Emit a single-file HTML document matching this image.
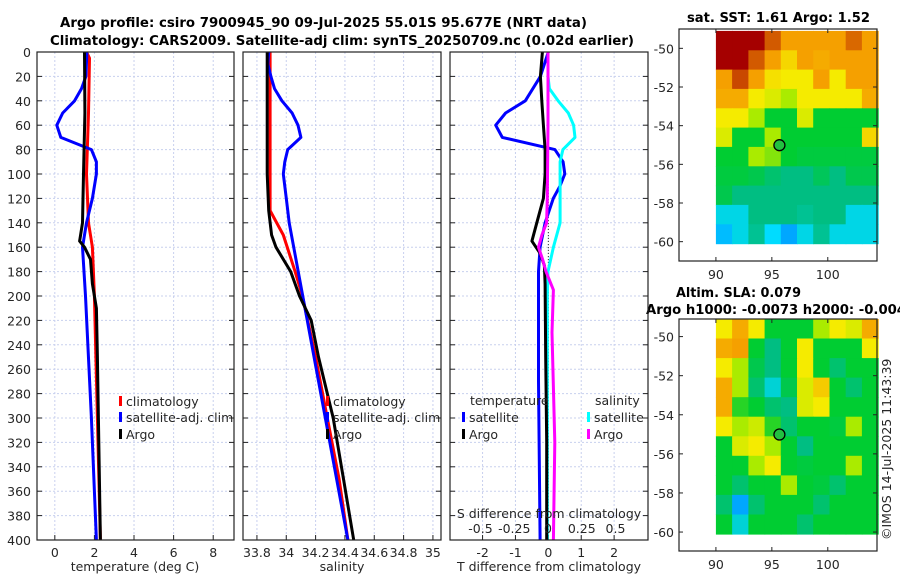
<!DOCTYPE html>
<html><head><meta charset="utf-8">
<style>
body{margin:0;background:#fff;}
svg{display:block;font-family:"DejaVu Sans","Liberation Sans",sans-serif;}
.t{font-size:12.5px;fill:#262626;}
.b{font-weight:bold;fill:#000;font-size:13px;}
</style></head>
<body>
<svg id="fig" width="900" height="580" viewBox="0 0 900 580">
<text class="b" x="60" y="27" textLength="527" lengthAdjust="spacingAndGlyphs">Argo profile: csiro 7900945_90 09-Jul-2025 55.01S 95.677E (NRT data)</text>
<text class="b" x="50" y="45" textLength="584" lengthAdjust="spacingAndGlyphs">Climatology: CARS2009. Satellite-adj clim: synTS_20250709.nc (0.02d earlier)</text>
<text class="b" x="687" y="22" textLength="183" lengthAdjust="spacingAndGlyphs">sat. SST: 1.61 Argo: 1.52</text>
<text class="b" x="676" y="297" textLength="125" lengthAdjust="spacingAndGlyphs">Altim. SLA: 0.079</text>
<text class="b" x="646" y="314" textLength="260" lengthAdjust="spacingAndGlyphs">Argo h1000: -0.0073 h2000: -0.004</text>
<text class="t" transform="translate(891,540) rotate(-90)">©IMOS 14-Jul-2025 11:43:39</text>
<g id="g"></g>
</svg>
<script>
// ---- data ----
const depthTicks=[0,20,40,60,80,100,120,140,160,180,200,220,240,260,280,300,320,340,360,380,400];
const tTicks=[0,2,4,6,8];
const sTicks=[33.8,34,34.2,34.4,34.6,34.8,35];
const dTTicks=[-2,-1,0,1,2];
const dSTicks=[-0.5,-0.25,0,0.25,0.5];
const dSTickLabels=['-0.5','-0.25','0','0.25','0.5'];
// temperature
const tSatD=[0,20,30,40,50,60,70,80,90,100,120,140,160,200,300,400];
const tSatV=[1.62,1.57,1.35,1.0,0.4,0.1,0.3,1.85,2.1,2.1,1.9,1.6,1.4,1.55,1.85,2.1];
const tClimD=[0,5,50,100,140,160,200,300,400];
const tClimV=[1.6,1.75,1.7,1.6,1.7,1.9,2.0,2.15,2.3];
const tArgoD=[0,50,100,140,150,155,160,170,190,210,250,300,400];
const tArgoV=[1.5,1.52,1.45,1.4,1.3,1.25,1.5,1.8,1.9,2.1,2.15,2.2,2.3];
// salinity
const sSatD=[0,10,20,30,40,50,60,70,80,90,100,120,140,400];
const sSatV=[33.88,33.875,33.895,33.92,33.97,34.04,34.08,34.10,34.01,33.99,33.98,34.0,34.02,34.42];
const sClimD=[0,130,150,180,200,250,300,350,400];
const sClimV=[33.89,33.89,33.98,34.06,34.11,34.2,34.28,34.36,34.42];
const sArgoD=[0,100,130,150,160,180,200,220,250,300,350,400];
const sArgoV=[33.87,33.87,33.88,33.9,33.93,34.03,34.09,34.17,34.22,34.32,34.39,34.46];
// differences
const dTSatD=[0,20,40,50,60,70,80,90,100,110,120,140,160,180,270,400];
const dTSatV=[0,-0.24,-0.7,-1.3,-1.6,-1.4,0.2,0.45,0.5,0.35,0.15,-0.1,-0.25,-0.3,-0.3,-0.25];
const dTArgoD=[0,20,40,60,80,100,120,140,155,165,175,190,250,320,400];
const dTArgoV=[-0.18,-0.24,-0.2,-0.15,-0.1,-0.1,-0.15,-0.35,-0.5,-0.25,-0.12,-0.1,-0.08,-0.05,-0.05];
const dSSatD=[0,20,30,40,50,60,70,80,90,100,120,140,160,180,200,400];
const dSSatV=[0,0,0.01,0.075,0.15,0.19,0.2,0.11,0.09,0.09,0.09,0.09,0.04,0,-0.005,-0.005];
const dSArgoD=[0,60,120,140,150,160,170,180,195,230,320,400];
const dSArgoV=[0,0,-0.005,-0.01,-0.045,-0.07,-0.04,-0.015,0.04,0.03,0.05,0.04];
// maps (values 0..1 on colour scale), rows lat -49.5..-59.5, cols lon 90..104.5
const sstGrid=[
[1,1,1,.9,.8,.8,.8,.8,.88,.8],
[1,1,.9,.8,.7,.8,.78,.8,.8,.8],
[.8,.92,.8,.68,.66,.66,.8,.66,.8,.8],
[.78,.78,.66,.62,.55,.66,.66,.66,.66,.78],
[.66,.66,.55,.42,.42,.62,.42,.42,.42,.42],
[.62,.42,.42,.55,.42,.42,.42,.42,.42,.7],
[.42,.42,.55,.52,.42,.4,.4,.4,.4,.4],
[.4,.4,.38,.33,.3,.3,.36,.3,.38,.38],
[.38,.3,.3,.3,.3,.3,.3,.3,.3,.3],
[.18,.18,.3,.3,.3,.28,.3,.3,.18,.18],
[.12,.18,.28,.15,.1,.18,.28,.18,.18,.18]];
const slaGrid=[
[.66,.78,.66,.42,.42,.42,.55,.66,.62,.78],
[.78,.8,.42,.3,.42,.66,.42,.42,.42,.66],
[.66,.55,.38,.3,.42,.66,.42,.33,.42,.42],
[.78,.55,.33,.2,.38,.62,.72,.42,.33,.42],
[.78,.45,.42,.33,.3,.62,.66,.42,.42,.42],
[.66,.55,.6,.45,.33,.42,.42,.4,.55,.42],
[.42,.62,.66,.55,.42,.3,.42,.42,.42,.42],
[.42,.42,.55,.66,.42,.4,.42,.42,.55,.42],
[.42,.33,.42,.42,.55,.42,.4,.33,.42,.42],
[.33,.1,.33,.42,.42,.42,.33,.42,.42,.42],
[.42,.2,.42,.42,.42,.33,.42,.42,.42,.42]];
const mapLonTicks=[90,95,100];
const mapLatTicks=[-50,-52,-54,-56,-58,-60];
const argoLon=95.677, argoLat=-55.01;

// ---- drawing ----
const NS='http://www.w3.org/2000/svg';
const G=document.getElementById('g');
function el(tag,attrs,parent){const e=document.createElementNS(NS,tag);for(const k in attrs)e.setAttribute(k,attrs[k]);(parent||G).appendChild(e);return e;}
function txt(x,y,s,anchor,parent){const e=el('text',{x:x,y:y,'text-anchor':anchor||'middle','class':'t'},parent);e.textContent=s;return e;}
const Y0=52,Y1=540;
const yD=d=>Y0+(Y1-Y0)*d/400;

function panel(name,left,right,xmin,xmax){
  const g=el('g',{});
  
  
  const xf=v=>left+(right-left)*(v-xmin)/(xmax-xmin);
  return {g,xf,left,right};
}
function frame(P,xticks,showY){
  for(const d of depthTicks){
    const y=yD(d);
    const gl=el('line',{x1:P.left,x2:P.right,y1:y,y2:y,stroke:'#c8d0ee','stroke-width':1,'stroke-dasharray':'2,2'},P.g);
    
    
    el('line',{x1:P.left,x2:P.left+5,y1:y,y2:y,stroke:'#222'},P.g);
    el('line',{x1:P.right-5,x2:P.right,y1:y,y2:y,stroke:'#222'},P.g);
    if(showY){const t=txt(P.left-6,y+5,String(d),'end',P.g);
      
      }
  }
  for(const v of xticks){
    const x=P.xf(v);
    const gl=el('line',{x1:x,x2:x,y1:Y0,y2:Y1,stroke:'#c8d0ee','stroke-width':1,'stroke-dasharray':'2,2'},P.g);
    
    
    el('line',{x1:x,x2:x,y1:Y1-5,y2:Y1,stroke:'#222'},P.g);
    const t=txt(x,Y1+17,String(v),'middle',P.g);
    
    
  }
}
function border(P){
  const r=el('rect',{x:P.left,y:Y0,width:P.right-P.left,height:Y1-Y0,fill:'none',stroke:'#222','stroke-width':1.2},P.g);
  
  
}
function line(P,ds,vs,color,name,xf){
  const f=xf||P.xf;
  const pts=ds.map((d,i)=>f(vs[i]).toFixed(1)+','+yD(d).toFixed(1)).join(' ');
  const p=el('polyline',{points:pts,fill:'none',stroke:color,'stroke-width':3,'stroke-linejoin':'round'},P.g);
  
  
}
function legendItem(P,x,y,color,label,name){
  const r=el('rect',{x:x,y:y-9,width:3,height:10,fill:color},P.g);
  
  
  const t=txt(x+7,y+1,label,'start',P.g);
  
  
}

// panel 1 temperature
const P1=panel('temperature-panel',37,234,-0.9,9.05);
frame(P1,tTicks,true);
line(P1,tClimD,tClimV,'#ff0000','climatology-temp-line');
line(P1,tSatD,tSatV,'#0000ff','satellite-temp-line');
line(P1,tArgoD,tArgoV,'#000000','argo-temp-line');
border(P1);
legendItem(P1,119,405,'#ff0000','climatology','legend-climatology');
legendItem(P1,119,421,'#0000ff','satellite-adj. clim','legend-satellite');
legendItem(P1,119,438,'#000000','Argo','legend-argo');
{const t=txt(135,571,'temperature (deg C)','middle',P1.g);}

// panel 2 salinity
const P2=panel('salinity-panel',243,441,33.705,35.055);
frame(P2,sTicks,false);
line(P2,sClimD,sClimV,'#ff0000','climatology-salinity-line');
line(P2,sSatD,sSatV,'#0000ff','satellite-salinity-line');
line(P2,sArgoD,sArgoV,'#000000','argo-salinity-line');
border(P2);
legendItem(P2,326,405,'#ff0000','climatology','legend-climatology');
legendItem(P2,326,421,'#0000ff','satellite-adj. clim','legend-satellite');
legendItem(P2,326,438,'#000000','Argo','legend-argo');
{const t=txt(342,571,'salinity','middle',P2.g);}

// panel 3 differences
const P3=panel('difference-panel',450,648,-2.99,3.03);
frame(P3,dTTicks,false);
const xS=v=>548+v*135;
el('line',{x1:P3.xf(0),x2:P3.xf(0),y1:Y0,y2:Y1,stroke:'#333','stroke-width':1,'stroke-dasharray':'1,2'},P3.g);
line(P3,dTSatD,dTSatV,'#0000ff','satellite-temp-diff-line');
line(P3,dSSatD,dSSatV,'#00ffff','satellite-salinity-diff-line',xS);
line(P3,dTArgoD,dTArgoV,'#000000','argo-temp-diff-line');
line(P3,dSArgoD,dSArgoV,'#ff00ff','argo-salinity-diff-line',xS);
border(P3);
{const t=txt(470,405,'temperature','start',P3.g);}
{const t=txt(595,405,'salinity','start',P3.g);}
legendItem(P3,462,421,'#0000ff','satellite','legend-temp-satellite');
legendItem(P3,462,438,'#000000','Argo','legend-temp-argo');
legendItem(P3,587,421,'#00ffff','satellite','legend-sal-satellite');
legendItem(P3,587,438,'#ff00ff','Argo','legend-sal-argo');
{const t=txt(549,518,'S difference from climatology','middle',P3.g);}
dSTicks.forEach((v,i)=>{const t=txt(xS(v),533,dSTickLabels[i],'middle',P3.g);
  
  });
{const t=txt(549,571,'T difference from climatology','middle',P3.g);}

// maps
const stops=[[0,[0,60,255]],[0.15,[0,220,255]],[0.3,[0,190,130]],[0.42,[0,205,50]],[0.55,[170,235,0]],[0.66,[245,235,0]],[0.8,[245,160,0]],[0.9,[210,90,0]],[1,[165,0,0]]];
function cmap(v){for(let i=1;i<stops.length;i++){if(v<=stops[i][0]){const a=stops[i-1],b=stops[i],t=(v-a[0])/(b[0]-a[0]);return 'rgb('+a[1].map((c,k)=>Math.round(c+(b[1][k]-c)*t)).join(',')+')';}}return 'rgb(165,0,0)';}
function map(name,box,lon0,lon1,lat0,lat1,grid){
  const g=el('g',{});
  
  
  const xf=lo=>box.x0+(box.x1-box.x0)*(lo-lon0)/(lon1-lon0);
  const yf=la=>box.y0+(box.y1-box.y0)*(lat1-la)/(lat1-lat0);
  const rows=grid.length,cols=grid[0].length;
  const dLon=(104.5-90)/cols,dLat=(60.1-49.1)/rows;
  grid.forEach((row,r)=>row.forEach((v,c)=>{
    const x=xf(90+c*dLon),y=yf(-49.1-r*dLat);
    const cell=el('rect',{x:x.toFixed(1),y:y.toFixed(1),width:(xf(90+(c+1)*dLon)-x+0.6).toFixed(1),height:(yf(-49.1-(r+1)*dLat)-y+0.6).toFixed(1),fill:cmap(v)},g);
    
    
  }));
  const fr=el('rect',{x:box.x0,y:box.y0,width:box.x1-box.x0,height:box.y1-box.y0,fill:'none',stroke:'#222','stroke-width':1.2},g);
  
  
  for(const lo of mapLonTicks){const x=xf(lo);
    el('line',{x1:x,x2:x,y1:box.y1,y2:box.y1-4,stroke:'#222'},g);
    el('line',{x1:x,x2:x,y1:box.y0,y2:box.y0+4,stroke:'#222'},g);
    const t=txt(x,box.y1+18,String(lo),'middle',g);
    
    }
  for(const la of mapLatTicks){const y=yf(la);
    el('line',{x1:box.x0,x2:box.x0+4,y1:y,y2:y,stroke:'#222'},g);
    el('line',{x1:box.x1,x2:box.x1-4,y1:y,y2:y,stroke:'#222'},g);
    const t=txt(box.x0-5,y+5,String(la),'end',g);
    
    }
  const m=el('circle',{cx:xf(argoLon),cy:yf(argoLat),r:5.5,fill:'#22c040',stroke:'#000','stroke-width':1.3},g);
  
  
}
map('sst-map',{x0:679,x1:877,y0:29,y1:261},86.7,104.4,-61.0,-49.0,sstGrid);
map('sla-map',{x0:679,x1:877,y0:319,y1:551},86.7,104.4,-60.97,-49.1,slaGrid);
</script>
</body></html>
